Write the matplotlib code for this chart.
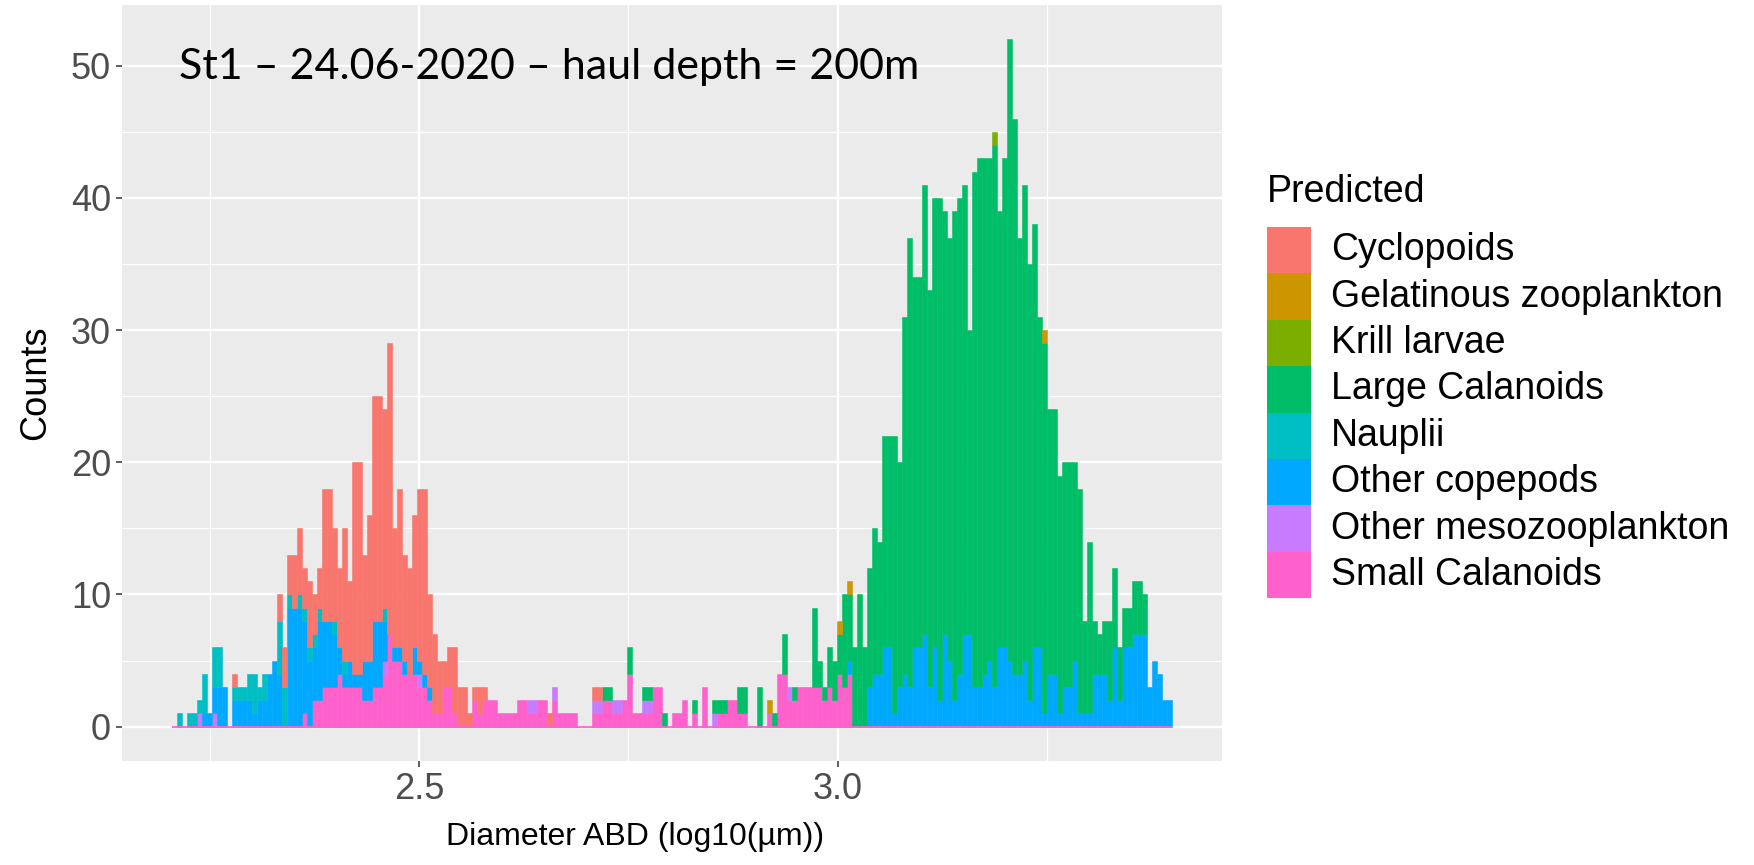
import numpy as np
import matplotlib.pyplot as plt
from matplotlib import font_manager
from matplotlib.patches import Rectangle

# histogram bins (log10 of ABD in um)
x_min, x_max = 2.2048, 3.3993
n_bins = 200

categories = ["Cyclopoids", "Gelatinous zooplankton", "Krill larvae", "Large Calanoids",
              "Nauplii", "Other copepods", "Other mesozooplankton", "Small Calanoids"]
colors = ["#F8766D", "#CD9600", "#7CAE00", "#00BE67",
          "#00BFC4", "#00A9FF", "#C77CFF", "#FF61CC"]

# counts per bin, 20 bins per row
cyclopoids = [
    0, 0, 0, 0, 0, 0, 0, 0, 0, 0, 0, 0, 1, 0, 0, 0, 0, 0, 0, 0,
    0, 2, 3, 3, 4, 5, 3, 5, 3, 3, 10, 10, 7, 6, 10, 6, 16, 16, 8, 11,
    17, 17, 15, 22, 9, 12, 8, 8, 10, 13, 14, 7, 6, 4, 2, 3, 5, 3, 3, 1,
    1, 2, 1, 0, 0, 0, 0, 0, 0, 0, 0, 0, 0, 0, 0, 1, 0, 0, 0, 0,
    0, 0, 0, 0, 1, 1, 0, 0, 0, 0, 0, 0, 0, 0, 0, 0, 0, 0, 0, 0,
    0, 0, 0, 0, 0, 0, 0, 0, 0, 0, 0, 0, 0, 0, 0, 0, 0, 0, 0, 0,
    0, 0, 0, 0, 0, 0, 0, 0, 0, 0, 0, 0, 0, 0, 0, 0, 0, 0, 0, 0,
    0, 0, 0, 0, 0, 0, 0, 0, 0, 0, 0, 0, 0, 0, 0, 0, 0, 0, 0, 0,
    0, 0, 0, 0, 0, 0, 0, 0, 0, 0, 0, 0, 0, 0, 0, 0, 0, 0, 0, 0,
    0, 0, 0, 0, 0, 0, 0, 0, 0, 0, 0, 0, 0, 0, 0, 0, 0, 0, 0, 0,
]
gelatinous = [
    0, 0, 0, 0, 0, 0, 0, 0, 0, 0, 0, 0, 0, 0, 0, 0, 0, 0, 0, 0,
    0, 0, 0, 0, 0, 0, 0, 0, 0, 0, 0, 0, 0, 0, 0, 0, 0, 0, 0, 0,
    0, 0, 0, 0, 0, 0, 0, 0, 0, 0, 0, 0, 0, 0, 0, 0, 0, 0, 0, 0,
    0, 0, 0, 0, 0, 0, 0, 0, 0, 0, 0, 0, 0, 0, 0, 0, 0, 0, 0, 0,
    0, 0, 0, 0, 0, 0, 0, 0, 0, 0, 0, 0, 0, 0, 0, 0, 0, 0, 0, 0,
    0, 0, 0, 0, 0, 0, 0, 0, 0, 0, 0, 0, 0, 0, 0, 0, 0, 0, 0, 1,
    0, 0, 0, 0, 0, 0, 0, 0, 0, 0, 0, 0, 0, 1, 0, 1, 0, 0, 0, 0,
    0, 0, 0, 0, 0, 0, 0, 0, 0, 0, 0, 0, 0, 0, 0, 0, 0, 0, 0, 0,
    0, 0, 0, 0, 0, 0, 0, 0, 0, 0, 0, 0, 0, 0, 1, 0, 0, 0, 0, 0,
    0, 0, 0, 0, 0, 0, 0, 0, 0, 0, 0, 0, 0, 0, 0, 0, 0, 0, 0, 0,
]
krill = [
    0, 0, 0, 0, 0, 0, 0, 0, 0, 0, 0, 0, 0, 0, 0, 0, 0, 0, 0, 0,
    0, 0, 0, 0, 0, 0, 0, 0, 0, 0, 0, 0, 0, 0, 0, 0, 0, 0, 0, 0,
    0, 0, 0, 0, 0, 0, 0, 0, 0, 0, 0, 0, 0, 0, 0, 0, 0, 0, 0, 0,
    0, 0, 0, 0, 0, 0, 0, 0, 0, 0, 0, 0, 0, 0, 0, 0, 0, 0, 0, 0,
    0, 0, 0, 0, 0, 0, 0, 0, 0, 0, 0, 0, 0, 0, 0, 0, 0, 0, 0, 0,
    0, 0, 0, 0, 0, 0, 0, 0, 0, 0, 0, 0, 0, 0, 0, 0, 0, 0, 0, 0,
    0, 0, 0, 0, 0, 0, 0, 0, 0, 0, 0, 0, 0, 0, 0, 0, 0, 0, 0, 0,
    0, 0, 0, 0, 0, 0, 0, 0, 0, 0, 0, 0, 0, 0, 0, 0, 0, 0, 0, 0,
    0, 0, 0, 0, 1, 0, 0, 0, 0, 0, 0, 0, 0, 0, 0, 0, 0, 0, 0, 0,
    0, 0, 0, 0, 0, 0, 0, 0, 0, 0, 0, 0, 0, 0, 0, 0, 0, 0, 0, 0,
]
large_calanoids = [
    0, 0, 0, 0, 0, 0, 0, 0, 0, 0, 0, 0, 0, 0, 0, 0, 0, 0, 0, 0,
    0, 0, 0, 0, 0, 0, 0, 0, 0, 0, 0, 0, 0, 0, 0, 0, 0, 0, 0, 0,
    0, 0, 0, 0, 0, 0, 0, 0, 0, 0, 0, 0, 0, 0, 0, 0, 0, 0, 0, 0,
    0, 0, 0, 0, 0, 0, 0, 0, 0, 0, 0, 0, 0, 0, 0, 0, 0, 0, 0, 0,
    0, 0, 0, 0, 0, 0, 1, 1, 0, 0, 0, 2, 0, 0, 1, 1, 0, 0, 1, 0,
    0, 0, 0, 0, 1, 0, 0, 0, 1, 1, 1, 0, 0, 2, 2, 0, 0, 3, 0, 0,
    1, 0, 3, 0, 1, 0, 0, 0, 6, 2, 1, 3, 3, 3, 7, 5, 6, 10, 6, 9,
    11, 10, 16, 16, 21, 17, 27, 34, 28, 28, 34, 30, 34, 38, 32, 32, 37, 36, 34, 23,
    39, 40, 39, 38, 41, 33, 37, 47, 42, 33, 36, 33, 32, 25, 28, 20, 20, 18, 17, 17,
    15, 17, 7, 13, 4, 3, 4, 6, 6, 4, 3, 3, 4, 4, 3, 0, 0, 0, 0, 0,
]
nauplii = [
    0, 1, 0, 1, 1, 1, 3, 0, 3, 3, 0, 0, 1, 1, 1, 2, 3, 1, 2, 0,
    0, 4, 3, 1, 0, 1, 1, 1, 1, 1, 0, 0, 1, 0, 1, 0, 0, 0, 0, 0,
    0, 0, 1, 0, 0, 0, 0, 0, 0, 0, 0, 0, 0, 0, 0, 0, 0, 0, 0, 0,
    0, 0, 0, 0, 0, 0, 0, 0, 0, 0, 0, 0, 0, 0, 0, 0, 0, 0, 0, 0,
    0, 0, 0, 0, 0, 0, 0, 0, 0, 0, 0, 0, 0, 0, 0, 0, 0, 0, 0, 0,
    0, 0, 0, 0, 0, 0, 0, 0, 0, 0, 0, 0, 0, 0, 0, 0, 0, 0, 0, 0,
    0, 0, 0, 0, 0, 0, 0, 0, 0, 0, 0, 0, 0, 0, 0, 0, 0, 0, 0, 0,
    0, 0, 0, 0, 0, 0, 0, 0, 0, 0, 0, 0, 0, 0, 0, 0, 0, 0, 0, 0,
    0, 0, 0, 0, 0, 0, 0, 0, 0, 0, 0, 0, 0, 0, 0, 0, 0, 0, 0, 0,
    0, 0, 0, 0, 0, 0, 0, 0, 0, 0, 0, 0, 0, 0, 0, 0, 0, 0, 0, 0,
]
other_copepods = [
    0, 0, 0, 0, 0, 0, 1, 1, 2, 3, 3, 0, 2, 2, 2, 2, 1, 2, 2, 4,
    5, 4, 0, 9, 9, 9, 7, 5, 4, 6, 5, 5, 4, 2, 1, 2, 1, 1, 3, 3,
    5, 5, 3, 0, 1, 1, 1, 0, 2, 1, 1, 1, 0, 0, 0, 0, 0, 0, 0, 0,
    0, 0, 0, 0, 0, 0, 0, 0, 0, 0, 0, 0, 0, 0, 0, 0, 0, 0, 0, 0,
    0, 0, 0, 0, 0, 0, 0, 0, 0, 0, 0, 0, 0, 0, 0, 0, 0, 0, 0, 0,
    0, 0, 0, 0, 0, 0, 0, 0, 0, 0, 0, 0, 0, 0, 0, 0, 0, 0, 0, 0,
    0, 0, 0, 0, 0, 0, 0, 0, 0, 0, 0, 0, 0, 0, 0, 1, 0, 0, 0, 3,
    4, 4, 6, 6, 1, 3, 4, 3, 6, 6, 7, 3, 6, 2, 7, 5, 2, 4, 7, 7,
    3, 3, 4, 5, 3, 6, 6, 5, 4, 4, 5, 2, 6, 6, 1, 4, 4, 1, 3, 3,
    5, 1, 1, 1, 4, 4, 4, 2, 6, 2, 6, 6, 7, 7, 7, 3, 5, 4, 2, 2,
]
other_meso = [
    0, 0, 0, 0, 0, 1, 0, 0, 1, 0, 0, 0, 0, 0, 0, 0, 0, 0, 0, 0,
    0, 0, 0, 0, 0, 0, 0, 0, 0, 0, 0, 0, 0, 0, 0, 0, 0, 0, 0, 0,
    0, 0, 1, 0, 0, 0, 0, 0, 0, 1, 0, 0, 0, 0, 0, 0, 0, 0, 0, 0,
    0, 0, 0, 0, 0, 0, 0, 0, 0, 0, 0, 1, 1, 0, 0, 0, 1, 0, 0, 0,
    0, 0, 0, 0, 1, 1, 0, 0, 1, 1, 0, 0, 0, 0, 1, 1, 0, 0, 0, 0,
    0, 0, 0, 0, 0, 0, 0, 0, 1, 0, 0, 0, 0, 0, 0, 0, 0, 0, 0, 0,
    0, 0, 0, 1, 0, 0, 0, 0, 0, 0, 0, 0, 0, 0, 0, 0, 0, 0, 0, 0,
    0, 0, 0, 0, 0, 0, 0, 0, 0, 0, 0, 0, 0, 0, 0, 0, 0, 0, 0, 0,
    0, 0, 0, 0, 0, 0, 0, 0, 0, 0, 0, 0, 0, 0, 0, 0, 0, 0, 0, 0,
    0, 0, 0, 0, 0, 0, 0, 0, 0, 0, 0, 0, 0, 0, 0, 0, 0, 0, 0, 0,
]
small_calanoids = [
    0, 0, 0, 0, 0, 0, 0, 0, 0, 0, 0, 0, 0, 0, 0, 0, 0, 0, 0, 0,
    0, 0, 0, 0, 0, 0, 1, 0, 2, 2, 3, 3, 3, 4, 3, 3, 3, 3, 2, 2,
    3, 3, 4, 7, 5, 5, 4, 4, 4, 3, 3, 2, 1, 1, 3, 3, 1, 0, 0, 0,
    2, 1, 2, 2, 2, 1, 1, 1, 1, 2, 2, 1, 1, 2, 2, 0, 2, 1, 1, 1,
    1, 0, 0, 0, 1, 1, 2, 2, 1, 1, 2, 4, 1, 1, 1, 1, 3, 3, 0, 0,
    1, 1, 2, 0, 1, 0, 3, 0, 0, 1, 1, 2, 2, 1, 1, 0, 0, 0, 0, 1,
    0, 4, 4, 2, 2, 3, 3, 3, 3, 3, 2, 3, 2, 4, 3, 4, 0, 0, 0, 0,
    0, 0, 0, 0, 0, 0, 0, 0, 0, 0, 0, 0, 0, 0, 0, 0, 0, 0, 0, 0,
    0, 0, 0, 0, 0, 0, 0, 0, 0, 0, 0, 0, 0, 0, 0, 0, 0, 0, 0, 0,
    0, 0, 0, 0, 0, 0, 0, 0, 0, 0, 0, 0, 0, 0, 0, 0, 0, 0, 0, 0,
]

series = [cyclopoids, gelatinous, krill, large_calanoids,
          nauplii, other_copepods, other_meso, small_calanoids]

title_text = "St1 \u2013 24.06-2020 \u2013 haul depth = 200m"

plt.rcParams['font.family'] = ['Liberation Sans', 'DejaVu Sans']

# the x axis title in the reference is tall but narrow
installed = {f.name for f in font_manager.fontManager.ttflist}
if 'Liberation Sans Narrow' in installed:
    xlab_font, xlab_size = ['Liberation Sans Narrow', 'DejaVu Sans'], 27.5
else:
    xlab_font, xlab_size = ['Liberation Sans', 'DejaVu Sans'], 23

W, H = 1754, 865
fig = plt.figure(figsize=(W / 100, H / 100), dpi=100)
# panel in pixel coords: left 122, right 1222, top 5, bottom 761
ax = fig.add_axes([122 / W, 1 - 761 / H, 1100 / W, 756 / H])
ax.set_facecolor('#EBEBEB')

edges = np.linspace(x_min, x_max, n_bins + 1)
left = edges[:-1]
width = np.diff(edges)

# ggplot stacks the first factor level on top, so draw from the last one up
bottom = np.zeros(n_bins)
for vals, col in reversed(list(zip(series, colors))):
    v = np.array(vals, dtype=float)
    m = v > 0
    ax.bar(left[m], v[m], width=width[m], bottom=bottom[m], align='edge',
           color=col, edgecolor=col, linewidth=0.4, zorder=3)
    bottom += v
ax.plot([x_min, x_max], [0, 0], color=colors[-1], lw=1.3, zorder=4,
        solid_capstyle='butt')

ax.set_xlim(2.1451, 3.459)
ax.set_ylim(-2.6, 54.6)
ax.set_xticks([2.5, 3.0])
ax.set_xticklabels(["2.5", "3.0"])
ax.set_xticks([2.25, 2.75, 3.25], minor=True)
ax.set_yticks([0, 10, 20, 30, 40, 50])
ax.set_yticks([5, 15, 25, 35, 45], minor=True)
ax.grid(which='major', color='white', lw=1.7, zorder=0)
ax.grid(which='minor', color='white', lw=0.9, zorder=0)
ax.set_axisbelow(True)
for s in ax.spines.values():
    s.set_visible(False)
ax.tick_params(which='major', length=4, width=1.1, color='#333333',
               labelsize=26, labelcolor='#4D4D4D', pad=4)
ax.tick_params(which='minor', length=0)

fig.text(36 / W, 1 - 383 / H, "Counts", rotation=90, ha='center', va='center',
         fontsize=26, color='black')
fig.text(568 * 1754 / 1568 / W, 1 - 837 / H, "Diameter ABD (log10(\u00b5m))",
         ha='center', va='center', fontsize=xlab_size, color='black',
         family=xlab_font)

fig.text(179 / W, 1 - 67 / H, title_text, ha='left', va='center',
         fontsize=31, color='black', family=['Lato', 'DejaVu Sans'])

# legend drawn by hand to match the key layout
fig.text(1267 / W, 1 - 192 / H, "Predicted", ha='left', va='center',
         fontsize=27, color='black')
key_top, key_h = 227, 46.4
for i, (name, col) in enumerate(zip(categories, colors)):
    y0 = key_top + i * key_h
    fig.add_artist(Rectangle((1267 / W, 1 - (y0 + key_h) / H), 44 / W, key_h / H,
                             transform=fig.transFigure, facecolor=col,
                             edgecolor='none'))
    fig.text(1331 / W, 1 - (y0 + key_h / 2) / H, name, ha='left', va='center',
             fontsize=27, color='black')

fig.savefig("out.png", dpi=100)
